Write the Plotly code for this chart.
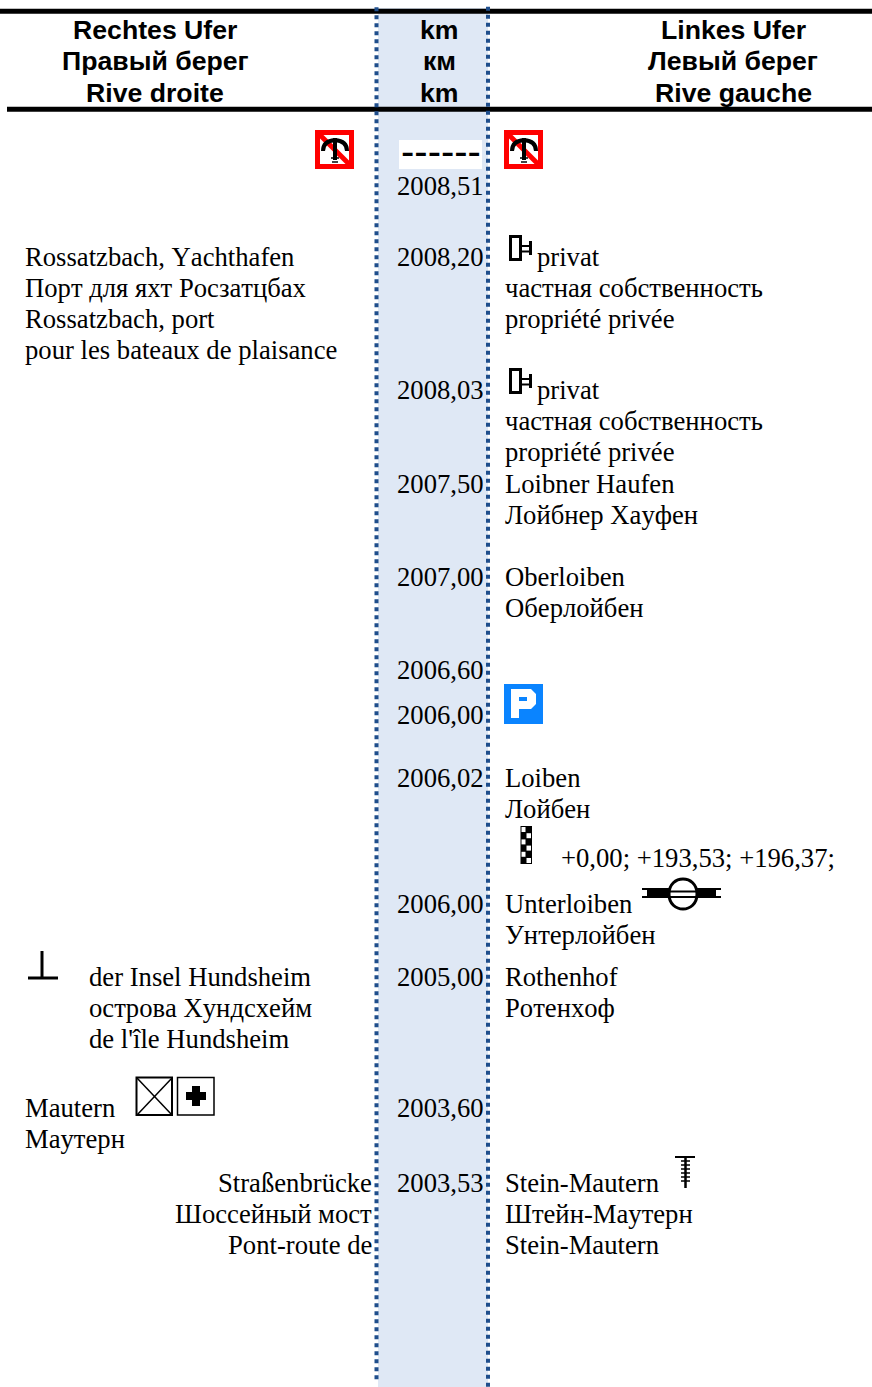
import plotly.graph_objects as go

# ---- text content ----
HEADER_LEFT = ["Rechtes Ufer", "Правый берег", "Rive droite"]
HEADER_KM = ["km", "км", "km"]
HEADER_RIGHT = ["Linkes Ufer", "Левый берег", "Rive gauche"]
KM_LABELS = ["2008,51", "2008,20", "2008,03", "2007,50", "2007,00", "2006,60",
             "2006,00", "2006,02", "2006,00", "2005,00", "2003,60", "2003,53"]
ROSSATZ = ["Rossatzbach, Yachthafen", "Порт для яхт Росзатцбах", "Rossatzbach, port",
           "pour les bateaux de plaisance"]
HUNDSHEIM = ["der Insel Hundsheim", "острова Хундсхейм", "de l'île Hundsheim"]
MAUTERN = ["Mautern", "Маутерн"]
BRIDGE = ["Straßenbrücke", "Шоссейный мост", "Pont-route de"]
PRIVAT_1 = ["privat"]
PRIVATE_LINES = ["частная собственность", "propriété privée"]
RIGHT_PLACES = ["Loibner Haufen", "Лойбнер Хауфен", "Oberloiben", "Оберлойбен",
                "Loiben", "Лойбен", "Unterloiben", "Унтерлойбен",
                "Rothenhof", "Ротенхоф", "Stein-Mautern", "Штейн-Маутерн", "Stein-Mautern"]
GAUGE_OFFSETS = "+0,00; +193,53; +196,37;"
DASHES = "------"

# ---- page layout (pixels) ----
W, H = 872, 1387
SERIF = "Liberation Serif"
SANS = "Liberation Sans"
SIZE = 26.67
HEAD_SIZE = 26.67
HEAD_Y = [30, 61, 93]
KM_Y = [186, 257, 390, 484, 577, 670, 715, 778, 904, 977, 1108, 1183]
ROSSATZ_Y = [257, 288, 319, 350]
HUNDSHEIM_Y = [977, 1008, 1039]
MAUTERN_Y = [1108, 1139]
BRIDGE_Y = [1183, 1214, 1245]
PRIVAT_Y = [257, 390]
PRIVATE_LINES_Y = [[288, 319], [421, 452]]
RIGHT_PLACES_Y = [484, 515, 577, 608, 778, 809, 904, 935, 977, 1008, 1183, 1214, 1245]

shapes, annos = [], []


def text(x, y, s, anchor="left", font=SERIF, size=SIZE, bold=False):
    annos.append(dict(x=x, y=y, xref="x", yref="y", text=f"<b>{s}</b>" if bold else s,
                      showarrow=False, xanchor=anchor, yanchor="middle", borderpad=0,
                      borderwidth=0, font=dict(family=font, size=size, color="#000000")))


def rect(x0, y0, x1, y1, fill=None, line=None, lw=0):
    shapes.append(dict(type="rect", x0=x0, y0=y0, x1=x1, y1=y1, layer="above",
                       fillcolor=fill or "rgba(0,0,0,0)",
                       line=dict(color=line or "rgba(0,0,0,0)", width=lw)))


def seg(x0, y0, x1, y1, color="#000000", lw=2, dash=None):
    shapes.append(dict(type="line", x0=x0, y0=y0, x1=x1, y1=y1, layer="above",
                       line=dict(color=color, width=lw, dash=dash or "solid")))


def path(d, fill=None, line=None, lw=0):
    shapes.append(dict(type="path", path=d, layer="above",
                       fillcolor=fill or "rgba(0,0,0,0)",
                       line=dict(color=line or "rgba(0,0,0,0)", width=lw)))


def no_anchor(x, y):
    rect(x, y, x + 39, y + 39, fill="#ff0000")
    rect(x + 5, y + 5, x + 34, y + 34, fill="#ffffff")
    seg(x + 3, y + 3, x + 36, y + 36, color="#ff0000", lw=5)
    seg(x + 20, y + 8, x + 20, y + 30, lw=4)
    path(f"M{x+8} {y+21} Q{x+8} {y+11} {x+20} {y+10} Q{x+32} {y+11} {x+32} {y+21}", line="#000000", lw=4)
    seg(x + 16, y + 28, x + 24, y + 28, lw=1.5)
    seg(x + 17, y + 32, x + 23, y + 32, color="#444444", lw=2)


def priv(x, y):
    rect(x + 1.5, y + 1.5, x + 11.5, y + 24.5, fill="#ffffff", line="#000000", lw=3)
    seg(x + 13, y + 11, x + 21, y + 11, lw=2)
    seg(x + 13, y + 16.5, x + 21, y + 16.5, lw=2)
    rect(x + 20, y + 6, x + 23, y + 20, fill="#000000")


def checker(x, y):
    rect(x, y, x + 11.5, y + 38, fill="#000000")
    for r in range(6):
        c = r % 2
        rect(x + 1 + c * 5, y + 1 + r * 6.2, x + 5 + c * 5.5, y + 6 + r * 6.2, fill="#ffffff")


# column fill
rect(378, 8, 488, H, fill="#dfe8f5")
# rules
seg(0, 11.3, W, 11.3, lw=5)
seg(7, 109.3, W, 109.3, lw=5)
# dotted column borders
seg(376.5, 7.3, 376.5, 1380, color="#1f4e8c", lw=4, dash="4px,4px")
seg(488, 6.7, 488, H, color="#1f4e8c", lw=4, dash="4px,4px")

# header
for y, a, b, c in zip(HEAD_Y, HEADER_LEFT, HEADER_KM, HEADER_RIGHT):
    text(155, y, a, "center", SANS, HEAD_SIZE, True)
    text(439, y, b, "center", SANS, HEAD_SIZE, True)
    text(733, y, c, "center", SANS, HEAD_SIZE, True)

# km column
rect(399, 140, 482, 169, fill="#ffffff")
text(440.5, 151, DASHES, "center", SANS, 40)
for y, s in zip(KM_Y, KM_LABELS):
    text(397, y, s)

# left column
for y, s in zip(ROSSATZ_Y, ROSSATZ):
    text(25, y, s)
for y, s in zip(HUNDSHEIM_Y, HUNDSHEIM):
    text(89, y, s)
for y, s in zip(MAUTERN_Y, MAUTERN):
    text(25, y, s)
for y, s in zip(BRIDGE_Y, BRIDGE):
    text(372, y, s, "right")

# right column
for y in PRIVAT_Y:
    text(537, y, PRIVAT_1[0])
for ys in PRIVATE_LINES_Y:
    for y, s in zip(ys, PRIVATE_LINES):
        text(505, y, s)
for y, s in zip(RIGHT_PLACES_Y, RIGHT_PLACES):
    text(505, y, s)
text(561, 858, GAUGE_OFFSETS)

# symbols
no_anchor(315, 130)
no_anchor(504, 130)
priv(509, 235)
priv(509, 368)
rect(504, 684, 543, 724, fill="#0a84ff")
path("M511 689 H531 L536 694 V704 L531 709 H519 V718 H511 Z", fill="#ffffff")
path("M519 697 H527 V701 H519 Z", fill="#0a84ff")
checker(520.5, 826)
# lock / bridge symbol
seg(642, 889, 721, 889, lw=2)
seg(642, 897, 721, 897, lw=2)
rect(647, 888, 716, 898, fill="#000000")
path("M669 894 C669 874 697 874 697 894 C697 914 669 914 669 894 Z", fill="#ffffff", line="#000000", lw=3)
seg(669, 891.5, 697, 891.5, lw=2)
seg(669, 897, 697, 897, lw=2)
# perpendicular
seg(42, 951, 42, 978, lw=3)
seg(28, 978, 58, 978, lw=3)
# boxes at Mautern
rect(136.5, 1077.5, 172, 1115, fill="#ffffff", line="#000000", lw=2)
seg(137, 1078, 172, 1115, lw=1.5)
seg(172, 1078, 137, 1115, lw=1.5)
rect(177.5, 1077.5, 214, 1115, fill="#ffffff", line="#000000", lw=1.5)
rect(186, 1092, 206, 1100, fill="#000000")
rect(192, 1086, 200, 1106, fill="#000000")
# tower symbol
seg(675, 1157, 695, 1157, lw=2)
seg(685.5, 1157, 685.5, 1188, lw=2.5)
for ty in (1161, 1165, 1169, 1173, 1177, 1181):
    seg(681, ty, 690, ty, lw=1.5)

fig = go.Figure()
fig.update_layout(
    width=W, height=H, margin=dict(l=0, r=0, t=0, b=0), showlegend=False,
    paper_bgcolor="#ffffff", plot_bgcolor="#ffffff",
    xaxis=dict(range=[0, W], visible=False, fixedrange=True),
    yaxis=dict(range=[H, 0], visible=False, fixedrange=True),
    shapes=shapes, annotations=annos,
)
# Kerning off, then a tiny font-size bump so plotly re-measures the text boxes.
POST = """
document.body.style.margin = '0';
var s = document.createElement('style');
s.textContent = 'text { font-kerning: none; }';
document.head.appendChild(s);
var gd = document.getElementById('{plot_id}');
var a = gd.layout.annotations.map(function (x) {
  var c = JSON.parse(JSON.stringify(x));
  c.font.size = c.font.size + 0.001;
  return c;
});
Plotly.relayout(gd, {annotations: a});
"""
fig.write_html("out.html", config=dict(displayModeBar=False), post_script=POST)
